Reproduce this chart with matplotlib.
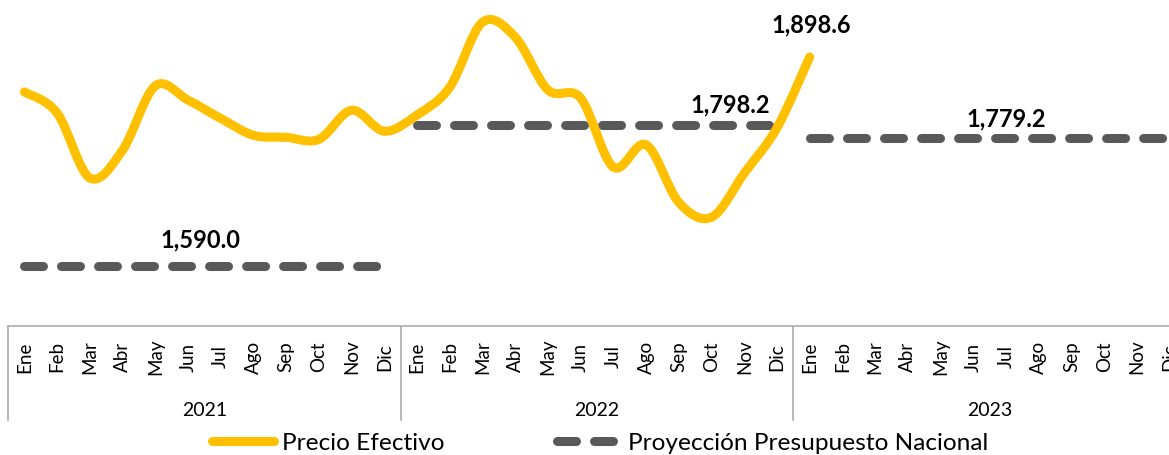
import numpy as np
import matplotlib
matplotlib.use("Agg")
import matplotlib.pyplot as plt
from matplotlib.path import Path
from matplotlib.patches import PathPatch
from matplotlib.lines import Line2D
import matplotlib.transforms as mtransforms

plt.rcParams['font.family'] = ['Lato', 'DejaVu Sans']

months = ['Ene', 'Feb', 'Mar', 'Abr', 'May', 'Jun', 'Jul', 'Ago', 'Sep', 'Oct', 'Nov', 'Dic']
years = ['2021', '2022', '2023']

# Precio Efectivo, Ene 2021 .. Ene 2023
precio = [1847, 1816, 1720, 1761, 1856, 1835, 1808, 1783, 1780, 1777, 1820, 1789,
          1813, 1854, 1950, 1928, 1850, 1838, 1736, 1769, 1684, 1662, 1727, 1794,
          1898.6]
# Proyeccion Presupuesto Nacional, one value per year
proyeccion = [1590.0, 1798.2, 1779.2]

YELLOW = '#FFC000'
GREY = '#595959'
AXIS = '#ADADAD'


def smooth_path(x, y):
    # excel-like smoothed line: catmull-rom as cubic bezier segments
    p = np.column_stack([x, y]).astype(float)
    p = np.vstack([p[0], p, p[-1]])
    verts = [p[1]]
    codes = [Path.MOVETO]
    for i in range(1, len(p) - 2):
        c1 = p[i] + (p[i + 1] - p[i - 1]) / 6
        c2 = p[i + 1] - (p[i + 2] - p[i]) / 6
        verts += [c1, c2, p[i + 1]]
        codes += [Path.CURVE4] * 3
    return Path(verts, codes)


fig = plt.figure(figsize=(11.69, 4.55), dpi=100)
ax = fig.add_axes([8 / 1169, 129 / 455, 1178 / 1169, 326 / 455])
ax.set_xlim(-0.5, 35.5)
ax.set_ylim(1501.4, 1982.8)

xs = np.arange(len(precio))
ax.add_patch(PathPatch(smooth_path(xs, precio), fill=False, edgecolor=YELLOW,
                       lw=6.5, capstyle='round', joinstyle='round', clip_on=False, zorder=3))

for k, v in enumerate(proyeccion):
    ax.plot([12 * k, 12 * k + 11], [v, v], color=GREY, lw=6.5,
            dashes=(2.1, 2.0), dash_capstyle='round', zorder=2)

# data labels
labels = [(5.37, 1590.0, 26, '1,590.0'), (21.56, 1798.2, 20, '1,798.2'),
          (30.0, 1779.2, 19, '1,779.2'), (24.05, precio[-1], 32, '1,898.6')]
for lx, ly, off, txt in labels:
    ax.annotate(txt, xy=(lx, ly), xytext=(0, off * 0.72), textcoords='offset points',
                ha='center', va='center', fontsize=17, fontweight='bold', color='black')

# multi-level category axis
for s in ['top', 'right', 'left']:
    ax.spines[s].set_visible(False)
ax.spines['bottom'].set_color(AXIS)
ax.spines['bottom'].set_linewidth(1.2)
ax.set_yticks([])
ax.set_xticks([])

trans = mtransforms.blended_transform_factory(ax.transData, ax.transAxes)
for k in range(len(years) + 1):
    ax.plot([12 * k - 0.5] * 2, [0, -94 / 326], color=AXIS, lw=1.2,
            transform=trans, clip_on=False)
for k, yr in enumerate(years):
    for m, name in enumerate(months):
        ax.text(12 * k + m, -31 / 326, name, transform=trans, rotation=90,
                ha='center', va='center', fontsize=13.5, color='black')
    ax.text(12 * k + 5.5, -84 / 326, yr, transform=trans, ha='center',
            va='center', fontsize=14, color='black')

handles = [Line2D([], [], color=YELLOW, lw=6.5, solid_capstyle='round'),
           Line2D([], [], color=GREY, lw=6.5, dashes=(2.1, 2.0), dash_capstyle='round')]
fig.legend(handles, ['Precio Efectivo', 'Proyección Presupuesto Nacional'],
           loc='center', bbox_to_anchor=(600 / 1169, 1 - 443 / 455), ncol=2,
           frameon=False, fontsize=17.6, handlelength=2.55, handletextpad=0.35,
           columnspacing=4.6, borderpad=0)

fig.savefig('out.png', dpi=100)
